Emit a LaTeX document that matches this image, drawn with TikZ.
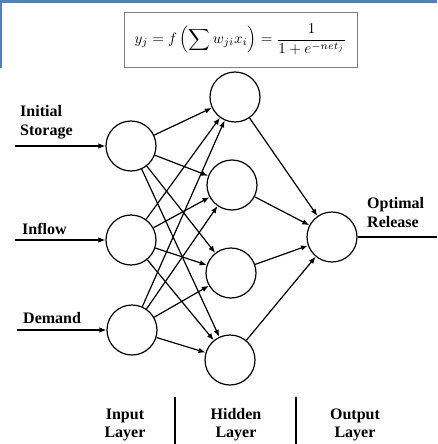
\documentclass[tikz,border=0pt]{standalone}
\usepackage{fontspec}
\usepackage{amsmath}
\usepackage{graphicx}
\setmainfont{Liberation Serif}
\usetikzlibrary{arrows.meta}
\definecolor{bandblue}{RGB}{79,129,189}
\begin{document}
\begin{tikzpicture}[x=1pt,y=-1pt,
  neuron/.style={circle,draw,line width=1.2pt,minimum size=50pt,inner sep=0pt},
  conn/.style={-{Latex[length=7pt,width=5.5pt]},line width=1.2pt},
  lbl/.style={font=\fontsize{16}{19}\selectfont\bfseries,inner sep=0pt},
  sep/.style={line width=1.3pt}]
\useasboundingbox (0,0) rectangle (437,444);
\fill[bandblue] (0,0) rectangle (437,3);
\fill[bandblue] (0,0) rectangle (2,68);
% formula
\node[draw=gray,line width=0.8pt,minimum width=233pt,minimum height=55pt,inner sep=0pt] (formula) at (240.5,39.5)
  {\scalebox{1.5}{$\displaystyle y_j = f\left(\sum w_{ji}x_i\right) = \frac{1}{1+e^{-net_j}}$}};
% neurons
\node[neuron] (i1) at (131,146) {};
\node[neuron] (i2) at (131,240) {};
\node[neuron] (i3) at (132,330) {};
\node[neuron] (h1) at (235,97) {};
\node[neuron] (h2) at (232,185) {};
\node[neuron] (h3) at (231,273) {};
\node[neuron] (h4) at (230,360) {};
\node[neuron] (o) at (332,237) {};
% free ends
\coordinate (s1) at (15,146);
\coordinate (s2) at (15,240);
\coordinate (s3) at (17,330);
\coordinate (e) at (437,237);
% input arrows
\draw[conn] (s1) -- (i1);
\draw[conn] (s2) -- (i2);
\draw[conn] (s3) -- (i3);
% input to hidden
\foreach \i in {i1,i2,i3}
  \foreach \h in {h1,h2,h3,h4}
    \draw[conn] (\i) -- (\h);
% hidden to output
\foreach \h in {h1,h2,h3,h4}
  \draw[conn] (\h) -- (o);
\draw[line width=1.2pt] (o) -- (e);
% labels
\node[lbl,align=left,anchor=west] (tis) at (20,122.5) {Initial\\Storage};
\node[lbl,anchor=west] (tin) at (22,229) {Inflow};
\node[lbl,anchor=west] (tde) at (23,318) {Demand};
\node[lbl,align=left,anchor=west] (tor) at (367,213) {Optimal\\Release};
\node[lbl,align=center,font=\fontsize{16}{18}\selectfont\bfseries] (lin) at (125,425) {Input\\Layer};
\node[lbl,align=center,font=\fontsize{16}{18}\selectfont\bfseries] (lhi) at (236,425) {Hidden\\Layer};
\node[lbl,align=center,font=\fontsize{16}{18}\selectfont\bfseries] (lou) at (355,425) {Output\\Layer};
\coordinate (v1a) at (175,397); \coordinate (v1b) at (175,444);
\coordinate (v2a) at (296,397); \coordinate (v2b) at (296,444);
\draw[sep] (v1a) -- (v1b);
\draw[sep] (v2a) -- (v2b);
\end{tikzpicture}
\end{document}
